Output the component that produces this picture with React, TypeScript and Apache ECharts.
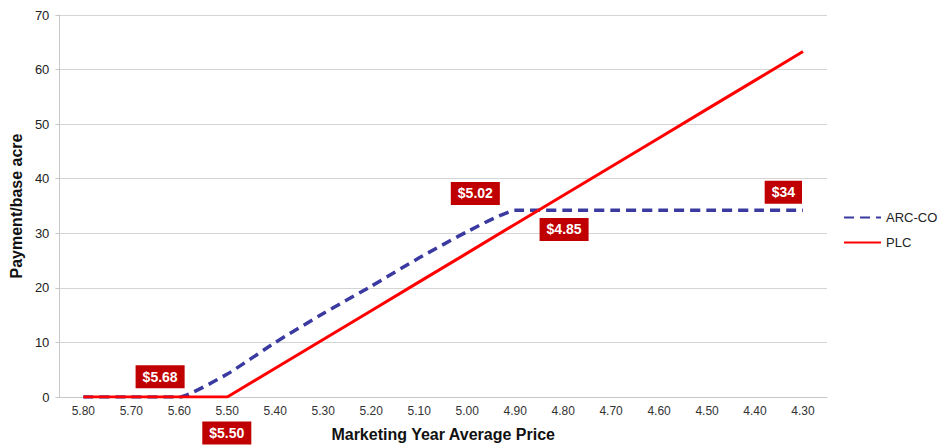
import React, { useEffect, useRef } from "react";
import * as echarts from "echarts";

const prices = ["5.80", "5.70", "5.60", "5.50", "5.40", "5.30", "5.20", "5.10", "5.00", "4.90", "4.80", "4.70", "4.60", "4.50", "4.40", "4.30"];
const arcCO = [0, 0, 0, 4.2, 10, 15.3, 20.3, 25.5, 30.3, 34.2, 34.2, 34.2, 34.2, 34.2, 34.2, 34.2];
const plc = [0, 0, 0, 0, 5.27, 10.55, 15.82, 21.1, 26.37, 31.65, 36.92, 42.2, 47.47, 52.75, 58.02, 63.3];
// annotation labels: [category index position, value position, text]
const annotations: [number, number, string][] = [
  [1.6, 3.7, "$5.68"],
  [2.99, -6.6, "$5.50"],
  [8.17, 37.3, "$5.02"],
  [10.02, 30.7, "$4.85"],
  [14.59, 37.5, "$34"],
];

const FONT = "Liberation Sans, Arial, sans-serif";

export default function App() {
  const ref = useRef<HTMLDivElement>(null);
  useEffect(() => {
    if (!ref.current) return;
    const chart = echarts.init(ref.current, null, { renderer: "svg" });
    chart.setOption({
      animation: false,
      textStyle: { fontFamily: FONT },
      grid: { left: 56, right: 113, top: 15, bottom: 49, containLabel: false },
      legend: {
        orient: "vertical",
        left: 838,
        top: 206,
        itemWidth: 37,
        itemHeight: 12,
        itemGap: 12,
        itemStyle: { opacity: 0 },
        textStyle: { fontFamily: FONT, fontSize: 13, color: "#222" },
        data: ["ARC-CO", "PLC"],
      },
      xAxis: {
        type: "category",
        data: prices,
        boundaryGap: true,
        name: "Marketing Year Average Price",
        nameLocation: "middle",
        nameGap: 29,
        nameTextStyle: { fontFamily: FONT, fontSize: 16, fontWeight: "bold", color: "#111" },
        axisLine: { show: true, lineStyle: { color: "#c8c8c8", width: 1 } },
        axisTick: { show: false },
        axisLabel: { fontFamily: FONT, fontSize: 12, color: "#333", margin: 8 },
      },
      yAxis: {
        type: "value",
        min: 0,
        max: 70,
        interval: 10,
        name: "Payment/base acre",
        nameLocation: "middle",
        nameGap: 31,
        nameRotate: 90,
        nameTextStyle: { fontFamily: FONT, fontSize: 16, fontWeight: "bold", color: "#111" },
        axisLine: { show: true, lineStyle: { color: "#c8c8c8", width: 1 } },
        axisTick: { show: true, length: 4, lineStyle: { color: "#c8c8c8" } },
        axisLabel: { fontFamily: FONT, fontSize: 13, color: "#222", margin: 10 },
        splitLine: { show: true, lineStyle: { color: "#d4d4d4", width: 1 } },
      },
      series: [
        {
          name: "ARC-CO",
          type: "line",
          data: arcCO,
          smooth: 0.15,
          symbol: "none",
          lineStyle: { color: "#3a3aa0", width: 3.5, type: [10, 6] },
          itemStyle: { color: "#3a3aa0" },
          z: 2,
        },
        {
          name: "PLC",
          type: "line",
          data: plc,
          symbol: "none",
          lineStyle: { color: "#ff0000", width: 3 },
          itemStyle: { color: "#ff0000" },
          z: 3,
        },
      ],
    });
    const graphics = annotations.map(([xi, yv, text]) => {
      const i0 = Math.floor(xi);
      const f = xi - i0;
      const p0 = chart.convertToPixel({ gridIndex: 0 }, [i0, yv]) as number[];
      const p1 = chart.convertToPixel({ gridIndex: 0 }, [i0 + 1, yv]) as number[];
      const px = p0[0] + (p1[0] - p0[0]) * f;
      return {
        type: "text",
        x: px,
        y: p0[1],
        z: 100,
        style: {
          text,
          fill: "#fff",
          font: `bold 14px ${FONT}`,
          align: "center",
          verticalAlign: "middle",
          backgroundColor: "#c00000",
          padding: [5, 7, 4, 7],
        },
      };
    });
    chart.setOption({ graphic: graphics });
    return () => chart.dispose();
  }, []);
  return <div ref={ref} style={{ width: 940, height: 447, position: "absolute", left: 0, top: 0 }} />;
}
